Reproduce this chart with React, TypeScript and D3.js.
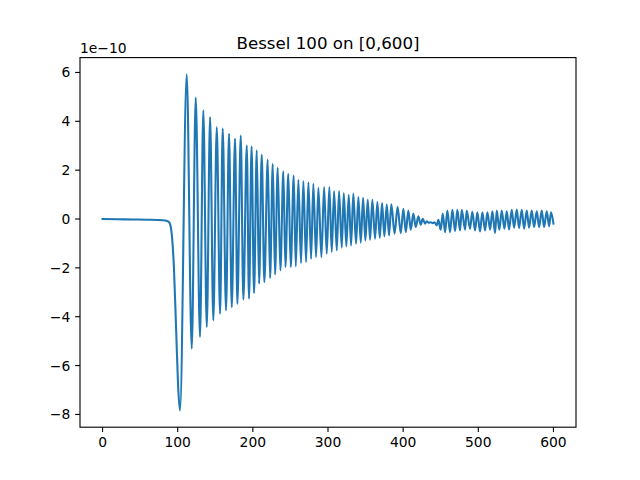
import React from "react";
import * as d3 from "d3";

// x positions (data units) of the curve's read-off points and their values (×1e-10)
const xs: number[] = [
  0, 20, 40, 60, 80, 86, 89, 92, 95, 98, 100.5, 103.1,
  112.0, 118.7, 124.0, 129.7, 134.1, 138.7, 143.1, 147.4, 152.0, 156.4,
  159.9, 164.3, 168.3, 171.9, 176.3, 179.4, 183.9, 187.4, 191.9, 194.9,
  198.3, 201.6, 205.2, 208.3, 211.8, 215.3, 219.8, 222.9, 226.5, 229.5,
  233.1, 236.6, 240.6, 243.3, 247.2, 250.4, 254.4, 257.1, 260.6, 264.1,
  267.2, 270.8, 273.9, 277.5, 280.5, 284.1, 287.2, 291.2, 294.8, 298.3,
  301.8, 305.0, 308.1, 311.7, 314.7, 318.3, 321.0, 324.4, 327.6, 330.7,
  333.7, 337.3, 340.4, 343.6, 346.7, 349.7, 352.9, 356.0, 359.0, 362.6,
  365.7, 368.9, 371.9, 375.0, 378.2, 381.2, 384.3, 388.6, 392.6, 396.8,
  400.3, 403.5, 406.9, 410.1, 413.6, 416.8, 420.2, 423.4, 426.1, 429.2,
  431.4, 434.1, 436.7, 439.4, 441.5, 444.7, 446.9, 450.0, 452.7, 455.8,
  458.8, 462.4, 465.5, 469.1, 472.1, 475.7, 478.0, 482.4, 484.6, 489.0,
  492.0, 495.7, 498.7, 502.3, 505.4, 509.0, 512.1, 515.7, 518.7, 522.3,
  524.6, 528.0, 531.2, 534.7, 537.9, 540.9, 544.5, 547.6, 551.2, 554.2,
  557.8, 560.9, 564.5, 567.5, 571.1, 574.2, 577.8, 580.9, 584.4, 587.5,
  591.1, 594.2, 596.8, 600,
];
const ys: number[] = [
  0, -0.01, -0.02, -0.03, -0.05, -0.08, -0.15, -0.6, -2.0, -4.6, -6.8, -7.835,
  5.92, -5.31, 4.97, -4.83, 4.45, -4.42, 4.17, -4.15, 3.76, -3.88,
  3.70, -3.74, 3.49, -3.61, 3.29, -3.47, 3.42, -3.30, 3.01, -3.26,
  2.97, -3.03, 2.81, -2.65, 2.63, -2.58, 2.43, -2.42, 2.26, -2.27,
  2.10, -2.10, 1.95, -1.97, 1.85, -1.97, 1.78, -1.94, 1.61, -1.81,
  1.55, -1.76, 1.50, -1.63, 1.44, -1.56, 1.28, -1.56, 1.31, -1.42,
  1.31, -1.35, 1.14, -1.29, 1.14, -1.17, 1.06, -1.12, 0.99, -1.08,
  1.04, -1.01, 0.90, -0.97, 0.87, -0.88, 0.79, -0.85, 0.79, -0.81,
  0.69, -0.77, 0.65, -0.71, 0.59, -0.67, 0.60, -0.60, 0.50, -0.58,
  0.42, -0.54, 0.35, -0.44, 0.22, -0.33, 0.11, -0.23, 0.01, -0.19,
  -0.09, -0.15, -0.13, -0.17, -0.13, -0.26, -0.03, -0.44, 0.22, -0.54,
  0.35, -0.54, 0.38, -0.50, 0.38, -0.47, 0.38, -0.44, 0.35, -0.40,
  0.30, -0.47, 0.28, -0.51, 0.28, -0.47, 0.28, -0.44, 0.32, -0.58,
  0.35, -0.44, 0.35, -0.40, 0.32, -0.43, 0.38, -0.36, 0.39, -0.37,
  0.38, -0.40, 0.35, -0.36, 0.35, -0.33, 0.32, -0.33, 0.35, -0.33,
  0.32, -0.30, 0.28, -0.19,
];

const xTicks: number[] = [0, 100, 200, 300, 400, 500, 600];
const yTicks: number[] = [-8, -6, -4, -2, 0, 2, 4, 6];
const title = "Bessel 100 on [0,600]";
const offsetLabel = "1e\u221210";

const W = 640;
const H = 480;
const L = 80;
const R = 576;
const T = 57.6;
const B = 427.2;
const FONT = "DejaVu Sans, sans-serif";
const PT = 100 / 72;

const fmt = (v: number) => (v < 0 ? "\u2212" + Math.abs(v) : String(v));

export default function App() {
  const [xmin, xmax] = d3.extent(xs) as [number, number];
  const [ymin, ymax] = d3.extent(ys) as [number, number];
  const xm = (xmax - xmin) * 0.05;
  const ym = (ymax - ymin) * 0.05;
  const x = d3.scaleLinear().domain([xmin - xm, xmax + xm]).range([L, R]);
  const y = d3.scaleLinear().domain([ymin - ym, ymax + ym]).range([B, T]);
  const pts: [number, number][] = xs.map((v, i) => [v, ys[i]]);
  const line = d3
    .line<[number, number]>()
    .x((d) => x(d[0]))
    .y((d) => y(d[1]))
    .curve(d3.curveMonotoneX);

  const tickLen = 3.5 * PT;
  const pad = 3.5 * PT;
  const fs = 10 * PT;

  return (
    <svg
      width={W}
      height={H}
      style={{ position: "absolute", left: 0, top: 0, background: "#fff" }}
      fontFamily={FONT}
    >
      <rect x={0} y={0} width={W} height={H} fill="#fff" />
      <path
        d={line(pts) || ""}
        fill="none"
        stroke="#1f77b4"
        strokeWidth={1.5 * PT}
        strokeLinejoin="round"
        strokeLinecap="square"
      />
      <rect
        x={L}
        y={T}
        width={R - L}
        height={B - T}
        fill="none"
        stroke="#000"
        strokeWidth={0.8 * PT}
      />
      {xTicks.map((t) => (
        <g key={"x" + t}>
          <line x1={x(t)} x2={x(t)} y1={B} y2={B + tickLen} stroke="#000" strokeWidth={0.8 * PT} />
          <text x={x(t)} y={B + tickLen + pad} dy="0.76em" fontSize={fs} textAnchor="middle" fill="#000">
            {fmt(t)}
          </text>
        </g>
      ))}
      {yTicks.map((t) => (
        <g key={"y" + t}>
          <line x1={L - tickLen} x2={L} y1={y(t)} y2={y(t)} stroke="#000" strokeWidth={0.8 * PT} />
          <text x={L - tickLen - pad} y={y(t)} dy="0.36em" fontSize={fs} textAnchor="end" fill="#000">
            {fmt(t)}
          </text>
        </g>
      ))}
      <text x={L} y={T - 5} fontSize={fs} textAnchor="start" fill="#000">
        {offsetLabel}
      </text>
      <text x={(L + R) / 2} y={T - 8.3} fontSize={12 * PT} textAnchor="middle" fill="#000">
        {title}
      </text>
    </svg>
  );
}
